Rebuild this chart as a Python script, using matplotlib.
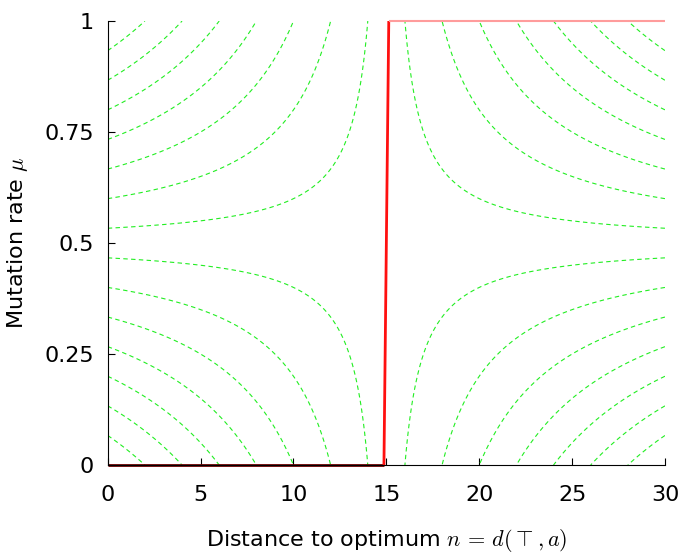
import numpy as np
import matplotlib.pyplot as plt

plt.rcParams['mathtext.fontset'] = 'cm'
plt.rcParams['font.family'] = ['DejaVu Sans']

# lunghezza del problema e livelli delle curve
L = 30
livelli = [2, 4, 6, 8, 10, 12, 14, 16, 18, 20, 22, 24, 26, 28]

# tasso di mutazione ottimale (curva rossa)
n_opt = [0, 14.87, 15.13, 30]
mu_opt = [0, 0, 1, 1]

xticks = [0, 5, 10, 15, 20, 25, 30]
yticks = [0, 0.25, 0.5, 0.75, 1]
ylabels = ["0", "0.25", "0.5", "0.75", "1"]

n = np.linspace(0, L, 400)
mu = np.linspace(0, 1, 400)
N, MU = np.meshgrid(n, mu)
# distanza attesa dopo la mutazione
Z = N + MU * (L - 2 * N)

fig = plt.figure(figsize=(6.82, 5.53), dpi=100)
ax = fig.add_axes([0.158, 0.159, 0.817, 0.803])

cs = ax.contour(N, MU, Z, levels=livelli, colors="#22ee22", linewidths=0.8)
for c in cs.collections if hasattr(cs, "collections") else [cs]:
    c.set_dashes([(0, (4, 3))])

ax.plot(n_opt[:2], mu_opt[:2], color="#6b0000", lw=2, solid_capstyle="butt", clip_on=False)
ax.plot(n_opt[1:3], mu_opt[1:3], color="#ff1010", lw=2, solid_capstyle="butt")
ax.plot(n_opt[2:], mu_opt[2:], color="#ff9c9c", lw=1.5, solid_capstyle="butt", clip_on=False)

ax.set_xlim(0, L)
ax.set_ylim(0, 1)
ax.set_xticks(xticks)
ax.set_yticks(yticks)
ax.set_yticklabels(ylabels)
ax.tick_params(direction="in", length=5, labelsize=16)
ax.tick_params(axis="x", pad=14)
ax.tick_params(axis="y", pad=10)
for s in ["top", "right"]:
    ax.spines[s].set_visible(False)
ax.set_xlabel(r"Distance to optimum $n\, =\, d(\top, a)$", fontsize=16, labelpad=16)
ax.set_ylabel(r"Mutation rate $\mu$", fontsize=16, labelpad=10)

fig.savefig("out.png", dpi=100)
